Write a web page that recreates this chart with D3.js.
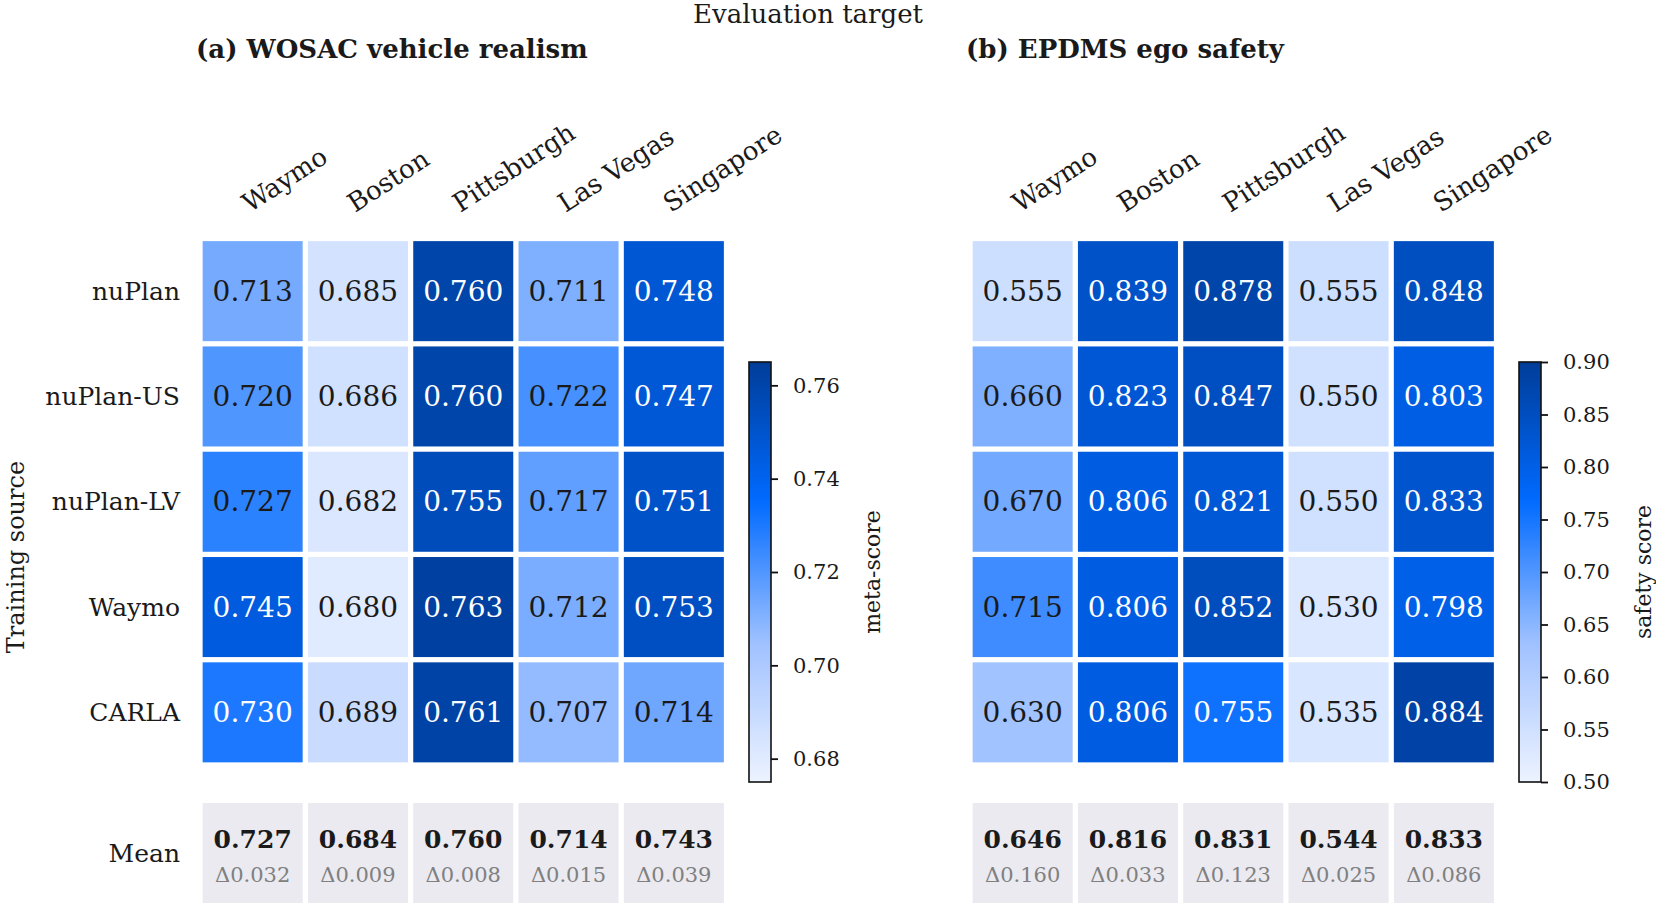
<!DOCTYPE html>
<html>
<head>
<meta charset="utf-8">
<script src="https://cdn.jsdelivr.net/npm/d3@7"></script>
<style>
  body { margin: 0; background: #fff; }
  svg text { font-family: "DejaVu Serif", serif; fill: #1a1a1a; }
</style>
</head>
<body>
<div id="app"></div>
<script>
const targets = ['Waymo', 'Boston', 'Pittsburgh', 'Las Vegas', 'Singapore']
const sources = ['nuPlan', 'nuPlan-US', 'nuPlan-LV', 'Waymo', 'CARLA']

const wosac = [
    [0.713, 0.685, 0.760, 0.711, 0.748],
    [0.720, 0.686, 0.760, 0.722, 0.747],
    [0.727, 0.682, 0.755, 0.717, 0.751],
    [0.745, 0.680, 0.763, 0.712, 0.753],
    [0.730, 0.689, 0.761, 0.707, 0.714],
]
const wosacMean = [0.727, 0.684, 0.760, 0.714, 0.743]
const wosacDelta = [0.032, 0.009, 0.008, 0.015, 0.039]
const wosacTicks = [0.68, 0.70, 0.72, 0.74, 0.76]

const epdms = [
    [0.555, 0.839, 0.878, 0.555, 0.848],
    [0.660, 0.823, 0.847, 0.550, 0.803],
    [0.670, 0.806, 0.821, 0.550, 0.833],
    [0.715, 0.806, 0.852, 0.530, 0.798],
    [0.630, 0.806, 0.755, 0.535, 0.884],
]
const epdmsMean = [0.646, 0.816, 0.831, 0.544, 0.833]
const epdmsDelta = [0.160, 0.033, 0.123, 0.025, 0.086]
const epdmsTicks = [0.50, 0.55, 0.60, 0.65, 0.70, 0.75, 0.80, 0.85, 0.90]

const width = 1656, height = 906
const svg = d3.select('#app').append('svg')
    .attr('width', width).attr('height', height)
    .attr('viewBox', [0, 0, width, height])

// light -> bright blue -> navy
const ramp = d3.scaleLinear()
    .domain([0, 0.33, 0.67, 1])
    .range(['#edf3ff', '#a0c2ff', '#006aff', '#003d99'])
    .clamp(true)

const gridSize = 526.5
const gridTop = 238.5
const meanTop = 800.4

svg.append('text').text('Evaluation target')
    .attr('x', 808).attr('y', 23)
    .attr('text-anchor', 'middle').style('font-size', '26px')

svg.append('text').text('Training source')
    .attr('transform', 'translate(24,557) rotate(-90)')
    .attr('text-anchor', 'middle').style('font-size', '24px')

drawPanel({
    x0: 200, title: '(a) WOSAC vehicle realism', values: wosac, means: wosacMean, deltas: wosacDelta,
    domain: [0.675, 0.765], ticks: wosacTicks, fmt: d3.format('.2f'), cbX: 749, label: 'meta-score', labelX: 872,
    rowLabels: true, id: 'a'
})
drawPanel({
    x0: 970, title: '(b) EPDMS ego safety', values: epdms, means: epdmsMean, deltas: epdmsDelta,
    domain: [0.5, 0.9], ticks: epdmsTicks, fmt: d3.format('.2f'), cbX: 1519, label: 'safety score', labelX: 1643,
    rowLabels: false, id: 'b'
})

function drawPanel(p) {
    const g = svg.append('g')
    const x = d3.scaleBand().domain(targets).range([p.x0, p.x0 + gridSize]).paddingInner(0.05).paddingOuter(0.025)
    const y = d3.scaleBand().domain(sources).range([gridTop, gridTop + gridSize]).paddingInner(0.05).paddingOuter(0.025)
    const t = d3.scaleLinear().domain(p.domain).range([0, 1])
    const color = v => ramp(t(v))

    g.append('text').text(p.title)
        .attr('x', p.x0 - 4).attr('y', 58)
        .style('font-size', '26px').style('font-weight', 'bold')

    // rotated column labels
    g.selectAll('.col-label').data(targets).enter().append('text')
        .attr('class', 'col-label')
        .attr('transform', d => `translate(${x(d) + x.bandwidth() / 2 - 3},213) rotate(-33)`)
        .style('font-size', '26px')
        .text(d => d)

    if (p.rowLabels) {
        g.selectAll('.row-label').data(sources).enter().append('text')
            .attr('class', 'row-label')
            .attr('x', 180).attr('y', d => y(d) + y.bandwidth() / 2)
            .attr('text-anchor', 'end').attr('dominant-baseline', 'central')
            .style('font-size', '25px')
            .text(d => d)
        g.append('text').text('Mean')
            .attr('x', 180).attr('y', meanTop + 2.6 + y.bandwidth() / 2)
            .attr('text-anchor', 'end').attr('dominant-baseline', 'central')
            .style('font-size', '25px')
    }

    const cells = []
    p.values.forEach((row, i) => row.forEach((v, j) => cells.push({ src: sources[i], tgt: targets[j], v })))

    g.selectAll('rect.cell').data(cells).enter().append('rect')
        .attr('class', 'cell')
        .attr('x', d => x(d.tgt)).attr('y', d => y(d.src))
        .attr('width', x.bandwidth()).attr('height', y.bandwidth())
        .attr('fill', d => color(d.v))

    g.selectAll('text.cell-val').data(cells).enter().append('text')
        .attr('class', 'cell-val')
        .attr('x', d => x(d.tgt) + x.bandwidth() / 2)
        .attr('y', d => y(d.src) + y.bandwidth() / 2)
        .attr('text-anchor', 'middle').attr('dominant-baseline', 'central')
        .style('font-size', '28px')
        .style('fill', d => t(d.v) > 0.6 ? '#ffffff' : '#1a1a1a')
        .text(d => d3.format('.3f')(d.v))

    // mean row
    const meanY = meanTop + 2.6
    g.selectAll('rect.mean').data(targets).enter().append('rect')
        .attr('class', 'mean')
        .attr('x', d => x(d)).attr('y', meanY)
        .attr('width', x.bandwidth()).attr('height', y.bandwidth())
        .attr('fill', '#eaeaf0')
    g.selectAll('text.mean-val').data(targets).enter().append('text')
        .attr('class', 'mean-val')
        .attr('x', d => x(d) + x.bandwidth() / 2).attr('y', meanY + 45)
        .attr('text-anchor', 'middle')
        .style('font-size', '25px').style('font-weight', 'bold')
        .text((d, i) => d3.format('.3f')(p.means[i]))
    g.selectAll('text.mean-delta').data(targets).enter().append('text')
        .attr('class', 'mean-delta')
        .attr('x', d => x(d) + x.bandwidth() / 2).attr('y', meanY + 79)
        .attr('text-anchor', 'middle')
        .style('font-size', '21px').style('fill', '#808080')
        .text((d, i) => '\u0394' + d3.format('.3f')(p.deltas[i]))

    // colorbar
    const cbTop = 362, cbBottom = 782, cbW = 22
    const cbScale = d3.scaleLinear().domain(p.domain).range([cbBottom, cbTop])
    const grad = svg.append('defs').append('linearGradient')
        .attr('id', 'grad-' + p.id).attr('x1', 0).attr('y1', 1).attr('x2', 0).attr('y2', 0)
    grad.selectAll('stop').data(d3.range(0, 1.0001, 0.02)).enter().append('stop')
        .attr('offset', d => d).attr('stop-color', d => ramp(d))
    g.append('rect')
        .attr('x', p.cbX).attr('y', cbTop).attr('width', cbW).attr('height', cbBottom - cbTop)
        .attr('fill', `url(#grad-${p.id})`).attr('stroke', '#111').attr('stroke-width', 1.6)
    const axis = g.append('g').attr('transform', `translate(${p.cbX + cbW},0)`)
        .call(d3.axisRight(cbScale).tickValues(p.ticks).tickFormat(p.fmt).tickSize(7).tickPadding(15))
    axis.select('.domain').remove()
    axis.selectAll('line').attr('stroke', '#111').attr('stroke-width', 1.8)
    axis.selectAll('text').style('font-size', '21px').style('font-family', '"DejaVu Serif", serif').attr('fill', '#1a1a1a')
    g.append('text').text(p.label)
        .attr('transform', `translate(${p.labelX},${(cbTop + cbBottom) / 2}) rotate(-90)`)
        .attr('text-anchor', 'middle').attr('dominant-baseline', 'central')
        .style('font-size', '22px')
}
</script>
</body>
</html>
